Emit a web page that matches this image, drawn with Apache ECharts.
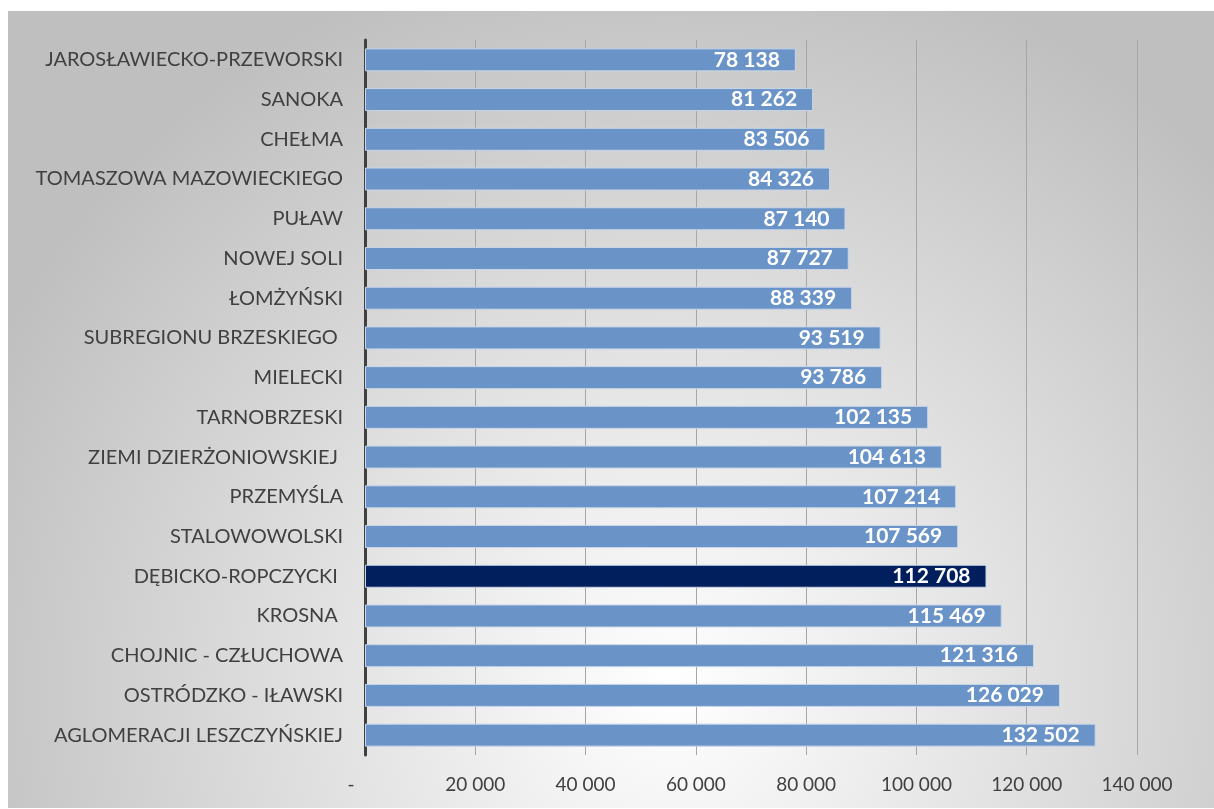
<!DOCTYPE html>
<html>
<head>
<meta charset="utf-8">
<script src="https://cdn.jsdelivr.net/npm/echarts@6/dist/echarts.min.js"></script>
<style>
  html, body { margin: 0; padding: 0; background: #fff; }
  #chart { position: absolute; left: 8px; top: 11px; width: 1206px; height: 797px; }
</style>
</head>
<body>
<div id="chart"></div>
<script>
// subregiony, od gory do dolu
const categories = [
  'JAROSŁAWIECKO-PRZEWORSKI', 'SANOKA', 'CHEŁMA', 'TOMASZOWA MAZOWIECKIEGO',
  'PUŁAW', 'NOWEJ SOLI', 'ŁOMŻYŃSKI', 'SUBREGIONU BRZESKIEGO ', 'MIELECKI',
  'TARNOBRZESKI', 'ZIEMI DZIERŻONIOWSKIEJ ', 'PRZEMYŚLA', 'STALOWOWOLSKI',
  'DĘBICKO-ROPCZYCKI ', 'KROSNA ', 'CHOJNIC - CZŁUCHOWA', 'OSTRÓDZKO - IŁAWSKI',
  'AGLOMERACJI LESZCZYŃSKIEJ'
]
const values = [
  78138, 81262, 83506, 84326, 87140, 87727, 88339, 93519, 93786,
  102135, 104613, 107214, 107569, 112708, 115469, 121316, 126029, 132502
]
const highlighted = 'DĘBICKO-ROPCZYCKI '
const xTicks = [0, 20000, 40000, 60000, 80000, 100000, 120000, 140000]

const fmt = v => String(v).replace(/\B(?=(\d{3})+(?!\d))/g, ' ')

const chart = echarts.init(document.getElementById('chart'))
chart.setOption({
  animation: false,
  backgroundColor: new echarts.graphic.RadialGradient(0.55, 0.85, 0.95, [
    { offset: 0, color: '#ffffff' },
    { offset: 1, color: '#bfbfbf' }
  ]),
  textStyle: { fontFamily: 'Lato, sans-serif' },
  grid: { left: 357, right: 77, top: 29, bottom: 53 },
  xAxis: {
    type: 'value',
    min: xTicks[0],
    max: xTicks[xTicks.length - 1],
    interval: 20000,
    axisLine: { show: false },
    axisTick: { show: false },
    splitLine: { lineStyle: { color: '#a6a6a6', width: 1 } },
    axisLabel: {
      color: '#404040',
      fontSize: 19,
      margin: 20,
      formatter: v => v === 0 ? '{d|-}' : fmt(v),
      rich: { d: { fontSize: 19, color: '#404040', padding: [0, 28, 0, 0] } }
    }
  },
  yAxis: {
    type: 'category',
    inverse: true,
    data: categories,
    axisLine: { lineStyle: { color: '#404040', width: 3 } },
    axisTick: { show: false },
    axisLabel: { color: '#404040', fontSize: 20, margin: 22 }
  },
  series: [{
    type: 'bar',
    barWidth: 23,
    data: values.map((v, i) => ({
      value: v,
      itemStyle: categories[i] === highlighted
        ? { color: '#001f5c', borderColor: '#c9d6e8', borderWidth: 1 }
        : { color: '#6a94c8', borderColor: '#c9d6e8', borderWidth: 1 }
    })),
    label: {
      show: true,
      position: 'insideRight',
      distance: 16,
      color: '#ffffff',
      fontWeight: 'bold',
      fontSize: 21,
      formatter: p => fmt(p.value)
    }
  }]
})
</script>
</body>
</html>
